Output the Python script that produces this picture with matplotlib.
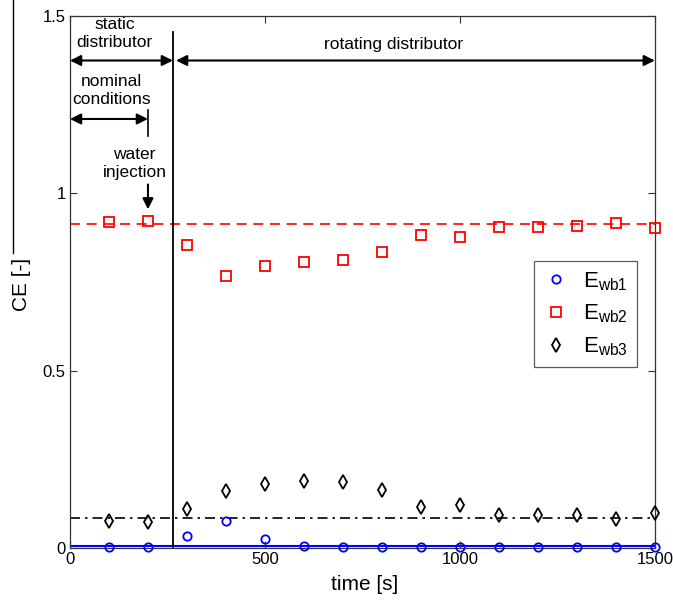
import matplotlib
matplotlib.use("Agg")
import matplotlib.pyplot as plt
from matplotlib.lines import Line2D

plt.rcParams['font.family'] = ['Liberation Sans', 'DejaVu Sans']
plt.rcParams['mathtext.fontset'] = 'custom'
plt.rcParams['mathtext.rm'] = 'Liberation Sans'
plt.rcParams['mathtext.it'] = 'Liberation Sans'

# time points
t = [100, 200, 300, 400, 500, 600, 700, 800, 900, 1000, 1100, 1200, 1300, 1400, 1500]

# efficiencies
e_wb1 = [0.003, 0.003, 0.034, 0.076, 0.026, 0.006, 0.003, 0.003, 0.003, 0.003,
         0.003, 0.003, 0.003, 0.003, 0.003]
e_wb2 = [0.920, 0.921, 0.854, 0.766, 0.795, 0.806, 0.812, 0.836, 0.882, 0.878,
         0.904, 0.904, 0.907, 0.916, 0.901]
e_wb3 = [0.077, 0.074, 0.110, 0.161, 0.180, 0.189, 0.187, 0.164, 0.114, 0.120,
         0.093, 0.093, 0.093, 0.081, 0.098]

# reference levels (nominal)
ref_wb1 = 0.004
ref_wb2 = 0.913
ref_wb3 = 0.083

t_switch = 264      # static -> rotating distributor
t_water = 200       # water injection

fig = plt.figure(figsize=(6.73, 6.0), dpi=100)
ax = fig.add_axes([0.104, 0.087, 0.869, 0.886])

ax.axhline(ref_wb1, color='#0000ff', lw=1.5, zorder=1)
ax.axhline(ref_wb2, color='#ff0000', lw=1.2, ls=(0, (6, 4)), zorder=1)
ax.axhline(ref_wb3, color='black', lw=1.2, ls=(0, (6, 3, 1.5, 3)), zorder=1)

ax.plot(t, e_wb1, 'o', ls='none', mfc='none', mec='#0000ff', mew=1.3, ms=6,
        label=r'$\mathregular{E_{wb1}}$', clip_on=False, zorder=3)
ax.plot(t, e_wb2, 's', ls='none', mfc='none', mec='#ff0000', mew=1.3, ms=7.5,
        label=r'$\mathregular{E_{wb2}}$', clip_on=False, zorder=3)
ax.plot(t, e_wb3, 'd', ls='none', mfc='none', mec='black', mew=1.3, ms=7,
        label=r'$\mathregular{E_{wb3}}$', clip_on=False, zorder=3)

# vertical separator
ax.plot([t_switch, t_switch], [0, 1.455], color='black', lw=1.3, zorder=2)

arrow = dict(arrowstyle='<|-|>', color='black', lw=1.5, mutation_scale=16,
             shrinkA=0, shrinkB=0)
arrow1 = dict(arrowstyle='-|>', color='black', lw=1.5, mutation_scale=16,
              shrinkA=0, shrinkB=0)

ax.annotate('', xy=(0, 1.375), xytext=(t_switch, 1.375), arrowprops=arrow)
ax.annotate('', xy=(t_switch + 8, 1.375), xytext=(1500, 1.375), arrowprops=arrow)
ax.text(114, 1.45, 'static\ndistributor', ha='center', va='center',
        fontsize=12.5, linespacing=1.25)
ax.text(830, 1.42, 'rotating distributor', ha='center', va='center', fontsize=12.5)

ax.annotate('', xy=(0, 1.21), xytext=(t_water, 1.21), arrowprops=arrow)
ax.plot([t_water, t_water], [1.162, 1.236], color='black', lw=1.2)
ax.text(106, 1.29, 'nominal\nconditions', ha='center', va='center',
        fontsize=12.5, linespacing=1.25)

ax.text(166, 1.083, 'water\ninjection', ha='center', va='center',
        fontsize=12.5, linespacing=1.25)
ax.annotate('', xy=(t_water, 0.955), xytext=(t_water, 1.025), arrowprops=arrow1)

ax.set_xlim(0, 1500)
ax.set_ylim(0, 1.5)
ax.set_xticks([0, 500, 1000, 1500])
ax.set_yticks([0, 0.5, 1, 1.5])
ax.set_yticklabels(['0', '0.5', '1', '1.5'])
ax.tick_params(direction='in', length=5, labelsize=12, top=True, right=True,
               color='#333333', pad=3)
for s in ax.spines.values():
    s.set_color('#333333')
    s.set_linewidth(0.9)

ax.set_xlabel('time [s]', fontsize=15)
ax.set_ylabel('CE [-]', fontsize=15)
ax.xaxis.set_label_coords(0.504, -0.052)
ax.yaxis.set_label_coords(-0.083, 0.496)
ax.yaxis.label.set_va('center')

leg = ax.legend(loc='upper right', bbox_to_anchor=(0.969, 0.539), fontsize=16,
                frameon=True, fancybox=False, handlelength=1.2, handletextpad=0.6,
                borderpad=0.4, labelspacing=0.45, borderaxespad=0)
leg.get_frame().set_edgecolor('#333333')
leg.get_frame().set_linewidth(0.9)

# stray line at the left edge of the original image
fig.add_artist(Line2D([0.019, 0.019], [1.0, 0.578], color='black', lw=1.0))

fig.savefig('out.png', dpi=100)
